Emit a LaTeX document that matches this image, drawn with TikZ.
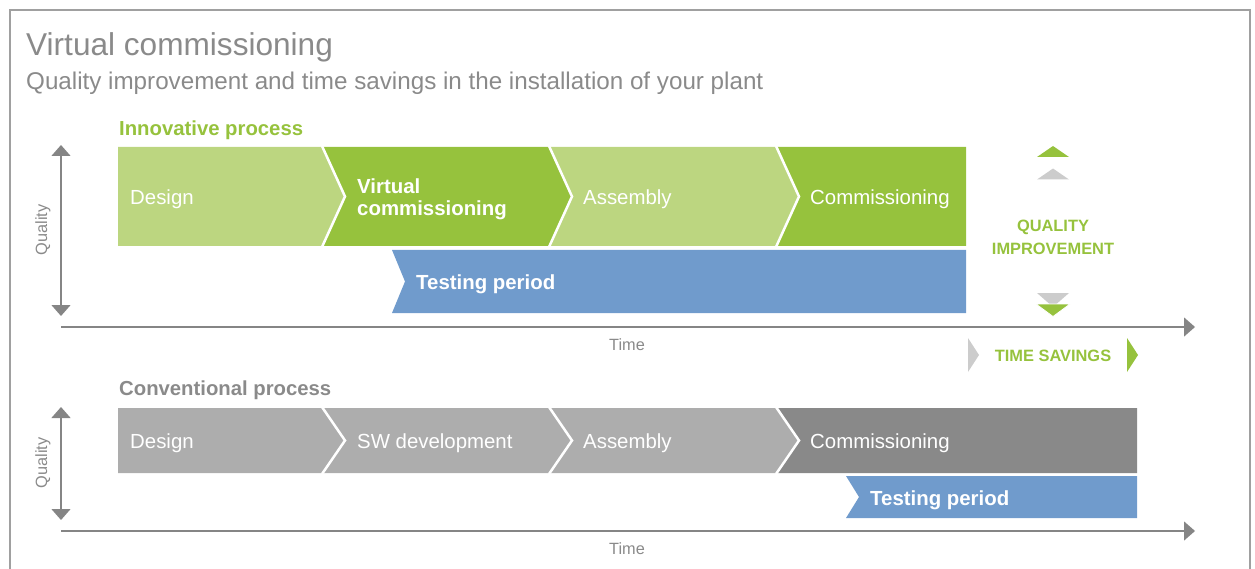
\documentclass[tikz,border=0pt]{standalone}
\usepackage{fontspec}
\setmainfont{Liberation Sans}
\usetikzlibrary{arrows.meta}
\definecolor{lgreen}{HTML}{BCD680}
\definecolor{dgreen}{HTML}{96C23D}
\definecolor{tblue}{HTML}{709BCC}
\definecolor{lgray}{HTML}{ADADAD}
\definecolor{dgray}{HTML}{898989}
\definecolor{txtgray}{HTML}{8A8A8A}
\definecolor{axisgray}{HTML}{858585}
\definecolor{trigray}{HTML}{CCCCCC}
\definecolor{framegray}{HTML}{A0A0A0}
\tikzset{
  seglabel/.style={anchor=west, text=white, inner sep=0pt, font=\fontsize{20.4}{22}\selectfont},
  seglabelb/.style={seglabel, font=\fontsize{20.4}{22}\selectfont\bfseries, align=left},
  heading/.style={anchor=west, inner sep=0pt, font=\fontsize{20.3}{24}\selectfont\bfseries},
  axislabel/.style={inner sep=0pt, text=txtgray, font=\fontsize{16.3}{18}\selectfont},
  sidelabel/.style={inner sep=0pt, text=dgreen, align=center, font=\fontsize{16.4}{23}\selectfont\bfseries},
  axis/.style={draw=axisgray, line width=1.3pt},
  sep/.style={draw=white, line width=2.5pt},
}
\begin{document}
\begin{tikzpicture}[x=1pt,y=-1pt]
\useasboundingbox (0,0) rectangle (1255,569);
% frame
\draw[framegray, line width=1.5pt] (10,600) -- (10,10) -- (1250,10) -- (1250,600);
% titles
\node[anchor=west, inner sep=0pt, text=txtgray, font=\fontsize{31.6}{36}\selectfont] (title) at (26,47) {Virtual commissioning};
\node[anchor=west, inner sep=0pt, text=txtgray, font=\fontsize{24.2}{28}\selectfont] (subtitle) at (26,83) {Quality improvement and time savings in the installation of your plant};

% ---------- innovative process ----------
\node[heading, text=dgreen] (innov) at (119,130.5) {Innovative process};
\fill[lgreen] (118,147) -- (322,147) -- (345,196.5) -- (322,246) -- (118,246) -- cycle;
\fill[dgreen] (322,147) -- (549,147) -- (572,196.5) -- (549,246) -- (322,246) -- (345,196.5) -- cycle;
\fill[lgreen] (549,147) -- (776,147) -- (799,196.5) -- (776,246) -- (549,246) -- (572,196.5) -- cycle;
\fill[dgreen] (776,147) -- (966,147) -- (966,246) -- (776,246) -- (799,196.5) -- cycle;
\draw[sep] (322,146) -- (345,196.5) -- (322,247);
\draw[sep] (549,146) -- (572,196.5) -- (549,247);
\draw[sep] (776,146) -- (799,196.5) -- (776,247);
\node[seglabel] (i1) at (130,199.5) {Design};
\node[seglabelb] (i2) at (357,199) {Virtual\\commissioning};
\node[seglabel] (i3) at (583,199.5) {Assembly};
\node[seglabel] (i4) at (810,199.5) {Commissioning};
\fill[tblue] (392,250) -- (966,250) -- (966,313) -- (392,313) -- (405,281.5) -- cycle;
\node[seglabelb] (itest) at (416,284.5) {Testing period};

% axes innovative
\coordinate (iqt) at (61,145);
\coordinate (iqb) at (61,316);
\coordinate (ita) at (61,327);
\coordinate (itb) at (1195,327);
\draw[axis, {Triangle[width=19pt,length=11pt]}-{Triangle[width=19pt,length=11pt]}] (iqt) -- (iqb);
\draw[axis, -{Triangle[width=19pt,length=11pt]}] (ita) -- (itb);
\node[axislabel, rotate=90] (iq) at (43,230) {Quality};
\node[axislabel] (itime) at (627,345) {Time};

% quality improvement
\fill[dgreen] (1037,157) -- (1053,146) -- (1069,157) -- cycle;
\fill[trigray] (1037,179.5) -- (1053,168.5) -- (1069,179.5) -- cycle;
\node[sidelabel] (qi) at (1053,237.5) {QUALITY\\IMPROVEMENT};
\fill[trigray] (1037,293) -- (1069,293) -- (1053,307) -- cycle;
\fill[dgreen, draw=white, line width=0.8pt] (1036,304) -- (1070,304) -- (1053,316.5) -- cycle;

% time savings
\fill[trigray] (968,338) -- (979,355) -- (968,372) -- cycle;
\fill[dgreen] (1127,338) -- (1138,355) -- (1127,372) -- cycle;
\node[sidelabel] (ts) at (1053,356) {TIME SAVINGS};

% ---------- conventional process ----------
\node[heading, text=txtgray] (conv) at (119,390.5) {Conventional process};
\fill[lgray] (118,408) -- (322,408) -- (345,440.5) -- (322,473) -- (118,473) -- cycle;
\fill[lgray] (322,408) -- (549,408) -- (572,440.5) -- (549,473) -- (322,473) -- (345,440.5) -- cycle;
\fill[lgray] (549,408) -- (776,408) -- (799,440.5) -- (776,473) -- (549,473) -- (572,440.5) -- cycle;
\fill[dgray] (776,408) -- (1137,408) -- (1137,473) -- (776,473) -- (799,440.5) -- cycle;
\draw[sep] (322,407) -- (345,440.5) -- (322,474);
\draw[sep] (549,407) -- (572,440.5) -- (549,474);
\draw[sep] (776,407) -- (799,440.5) -- (776,474);
\node[seglabel] (c1) at (130,443.5) {Design};
\node[seglabel] (c2) at (357,443.5) {SW development};
\node[seglabel] (c3) at (583,443.5) {Assembly};
\node[seglabel] (c4) at (810,443.5) {Commissioning};
\fill[tblue] (846,476) -- (1137,476) -- (1137,518) -- (846,518) -- (859,497) -- cycle;
\node[seglabelb] (ctest) at (870,500.5) {Testing period};

% axes conventional
\coordinate (cqt) at (61,407);
\coordinate (cqb) at (61,520);
\coordinate (cta) at (61,531);
\coordinate (ctb) at (1195,531);
\draw[axis, {Triangle[width=19pt,length=11pt]}-{Triangle[width=19pt,length=11pt]}] (cqt) -- (cqb);
\draw[axis, -{Triangle[width=19pt,length=11pt]}] (cta) -- (ctb);
\node[axislabel, rotate=90] (cq) at (43,463) {Quality};
\node[axislabel] (ctime) at (627,549) {Time};
\end{tikzpicture}
\end{document}
